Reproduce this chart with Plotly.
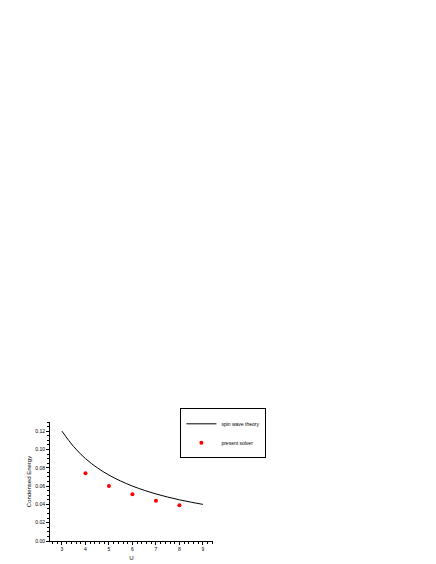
import plotly.graph_objects as go

# spin wave theory curve
u_theory = [3, 3.5, 4, 4.5, 5, 5.5, 6, 6.5, 7, 7.5, 8, 8.5, 9]
e_theory = [0.120, 0.103, 0.090, 0.080, 0.072, 0.0655, 0.060, 0.0554, 0.0514, 0.048, 0.045, 0.0424, 0.040]

# present solver points
u_solver = [4, 5, 6, 7, 8]
e_solver = [0.074, 0.060, 0.051, 0.044, 0.039]

fig = go.Figure()
fig.add_trace(go.Scatter(x=u_theory, y=e_theory, mode='lines', name='spin wave theory',
                         line=dict(color='black', width=1), line_shape='spline'))
fig.add_trace(go.Scatter(x=u_solver, y=e_solver, mode='markers', name='present solver',
                         marker=dict(color='red', size=4)))

axis_common = dict(showgrid=False, zeroline=False, showline=True, linecolor='black', linewidth=1,
                   ticks='outside', ticklen=3, tickcolor='black',
                   tickfont=dict(size=5, family='Arial', color='black'),
                   minor=dict(ticks='outside', ticklen=2, tickcolor='black'))

fig.update_layout(
    width=436, height=564,
    margin=dict(l=42, r=231, t=414, b=28),
    plot_bgcolor='white', paper_bgcolor='white',
    xaxis=dict(range=[2.49, 9.43], dtick=1, tick0=3,
               title=dict(text='U', font=dict(size=6, family='Arial', color='black'), standoff=4), **axis_common),
    yaxis=dict(range=[0, 0.13], dtick=0.02, tickformat='.2f',
               title=dict(text='Condensed Energy', font=dict(size=6, family='Arial', color='black'), standoff=3), **axis_common),
    showlegend=True,
    legend=dict(x=0.80, y=1.115, xanchor='left', yanchor='top', bordercolor='black', borderwidth=1,
                font=dict(size=5, family='Arial', color='black'), bgcolor='white',
                itemwidth=30, tracegroupgap=0),
)
fig.write_html("out.html")
